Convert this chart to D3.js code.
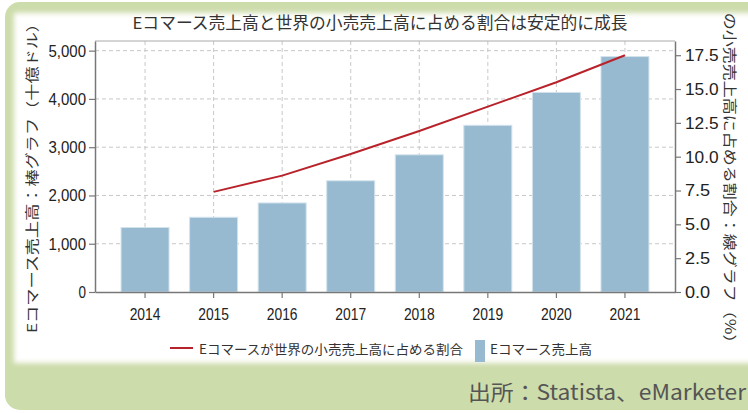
<!DOCTYPE html>
<html lang="ja">
<head>
<meta charset="UTF-8">
<title>Eコマース売上高</title>
<script src="https://cdn.jsdelivr.net/npm/d3@7"></script>
<style>
  body { margin: 0; background: #fff; }
  svg { display: block; font-family: "Noto Sans CJK JP", "Noto Sans", sans-serif; }
</style>
</head>
<body>
<div id="chart"></div>
<script>
// ---- data ----
const years = ["2014", "2015", "2016", "2017", "2018", "2019", "2020", "2021"];
const sales = [1336, 1548, 1845, 2304, 2842, 3453, 4135, 4878];          // 十億ドル
const shareYears = ["2015", "2016", "2017", "2018", "2019", "2020", "2021"];
const share = [7.4, 8.6, 10.2, 11.9, 13.7, 15.5, 17.5];                   // %
const leftTicks = [0, 1000, 2000, 3000, 4000, 5000];
const rightTicks = [0, 2.5, 5, 7.5, 10, 12.5, 15, 17.5];

const titleText = "Eコマース売上高と世界の小売売上高に占める割合は安定的に成長";
const leftLabel = "Eコマース売上高：棒グラフ（十億ドル）";
const rightLabel = "Eコマースが世界の小売売上高に占める割合：線グラフ（%）";
const legendLine = "Eコマースが世界の小売売上高に占める割合";
const legendBar = "Eコマース売上高";
const sourceText = "出所：Statista、eMarketer";

// ---- setup ----
const width = 748, height = 413;
const plot = { left: 95, right: 675, top: 41, bottom: 292 };
const barColor = "#97bad1", lineColor = "#b8232b", green = "#cddcab";

const svg = d3.select("#chart").append("svg")
  .attr("width", width).attr("height", height);

const defs = svg.append("defs");
defs.append("filter").attr("id", "soft")
  .attr("x", "-5%").attr("y", "-5%").attr("width", "110%").attr("height", "110%")
  .append("feGaussianBlur").attr("stdDeviation", 2.5);
defs.append("clipPath").attr("id", "panelClip")
  .append("rect").attr("x", 0).attr("y", 12).attr("width", width).attr("height", 360);

// green frame + white panel
svg.append("rect").attr("x", 5).attr("y", 2).attr("width", 800).attr("height", 408)
  .attr("rx", 15).attr("fill", green);
svg.append("rect").attr("x", 14).attr("y", 13).attr("width", 800).attr("height", 350)
  .attr("fill", "#fff").attr("filter", "url(#soft)");

// ---- scales ----
const x = d3.scaleBand().domain(years).range([plot.left, plot.right])
  .paddingInner(0.3).paddingOuter(0.38);
const yL = d3.scaleLinear().domain([0, 5200]).range([plot.bottom, plot.top]);
const yR = d3.scaleLinear().domain([0, 18.55]).range([plot.bottom, plot.top]);
const cx = d => x(d) + x.bandwidth() / 2;

const g = svg.append("g");

// grid
g.selectAll(".hgrid").data(leftTicks.slice(1)).join("line")
  .attr("x1", plot.left).attr("x2", plot.right)
  .attr("y1", d => yL(d)).attr("y2", d => yL(d))
  .attr("stroke", "#c8c8c8").attr("stroke-dasharray", "4,3");
g.selectAll(".vgrid").data(years).join("line")
  .attr("x1", cx).attr("x2", cx)
  .attr("y1", plot.top).attr("y2", plot.bottom)
  .attr("stroke", "#c8c8c8").attr("stroke-dasharray", "4,3");

// frame top
g.append("line").attr("x1", plot.left).attr("x2", plot.right)
  .attr("y1", plot.top).attr("y2", plot.top).attr("stroke", "#aaa");

// bars
g.selectAll(".bar").data(years).join("rect")
  .attr("x", d => x(d)).attr("width", x.bandwidth())
  .attr("y", (d, i) => yL(sales[i]))
  .attr("height", (d, i) => plot.bottom - yL(sales[i]))
  .attr("fill", barColor).attr("stroke", "#d3e3ec").attr("stroke-width", 1);

// line
const line = d3.line().x(d => cx(d.year)).y(d => yR(d.v));
g.append("path")
  .datum(shareYears.map((yr, i) => ({ year: yr, v: share[i] })))
  .attr("fill", "none").attr("stroke", lineColor).attr("stroke-width", 2)
  .attr("d", line);

// axes
function styleTicks(sel, perChar) {
  sel.select(".domain").attr("stroke", "#777").attr("stroke-width", 1.5);
  sel.selectAll(".tick line").attr("stroke", "#777").attr("stroke-width", 1.2);
  sel.selectAll(".tick text")
    .attr("fill", "#222").style("font-size", "17px").style("font-weight", 500)
    .attr("textLength", function () { return this.textContent.length * perChar; })
    .attr("lengthAdjust", "spacingAndGlyphs");
}

g.append("g").attr("transform", `translate(${plot.left},0)`)
  .call(d3.axisLeft(yL).tickValues(leftTicks).tickFormat(d3.format(",")).tickSize(6).tickPadding(3).tickSizeOuter(0))
  .call(s => styleTicks(s, 7.5));

g.append("g").attr("transform", `translate(${plot.right},0)`)
  .call(d3.axisRight(yR).tickValues(rightTicks).tickFormat(d3.format(".1f")).tickSize(6).tickPadding(4).tickSizeOuter(0))
  .call(s => styleTicks(s, 8.4));

g.append("g").attr("transform", `translate(0,${plot.bottom})`)
  .call(d3.axisBottom(x).tickSize(6).tickPadding(10).tickSizeOuter(0))
  .call(s => styleTicks(s, 7.7));

// title
svg.append("text").attr("x", 380).attr("y", 29).attr("text-anchor", "middle")
  .attr("fill", "#333").style("font-size", "16.5px")
  .attr("textLength", 495).attr("lengthAdjust", "spacingAndGlyphs")
  .text(titleText);

// axis titles
svg.append("text")
  .attr("transform", "translate(32,174) rotate(-90)")
  .attr("text-anchor", "middle").attr("dy", "0.35em")
  .attr("fill", "#333").style("font-size", "13.5px")
  .attr("textLength", 318).attr("lengthAdjust", "spacingAndGlyphs")
  .text(leftLabel);

svg.append("g").attr("clip-path", "url(#panelClip)")
  .append("text")
  .attr("transform", "translate(730,118) rotate(90)")
  .attr("text-anchor", "middle").attr("dy", "0.35em")
  .attr("fill", "#333").style("font-size", "14px")
  .attr("textLength", 467).attr("lengthAdjust", "spacingAndGlyphs")
  .text(rightLabel);

// legend
const lg = svg.append("g");
lg.append("line").attr("x1", 170).attr("x2", 193).attr("y1", 348).attr("y2", 348)
  .attr("stroke", lineColor).attr("stroke-width", 2);
lg.append("text").attr("x", 199).attr("y", 354).attr("fill", "#333")
  .style("font-size", "13px")
  .attr("textLength", 264).attr("lengthAdjust", "spacingAndGlyphs")
  .text(legendLine);
lg.append("rect").attr("x", 475).attr("y", 340).attr("width", 10).attr("height", 22)
  .attr("fill", barColor);
lg.append("text").attr("x", 490).attr("y", 354).attr("fill", "#333")
  .style("font-size", "13px")
  .attr("textLength", 102).attr("lengthAdjust", "spacingAndGlyphs")
  .text(legendBar);

// source
svg.append("text").attr("x", 746).attr("y", 400).attr("text-anchor", "end")
  .attr("fill", "#555").style("font-size", "21px")
  .attr("textLength", 278).attr("lengthAdjust", "spacingAndGlyphs")
  .text(sourceText);
</script>
</body>
</html>
